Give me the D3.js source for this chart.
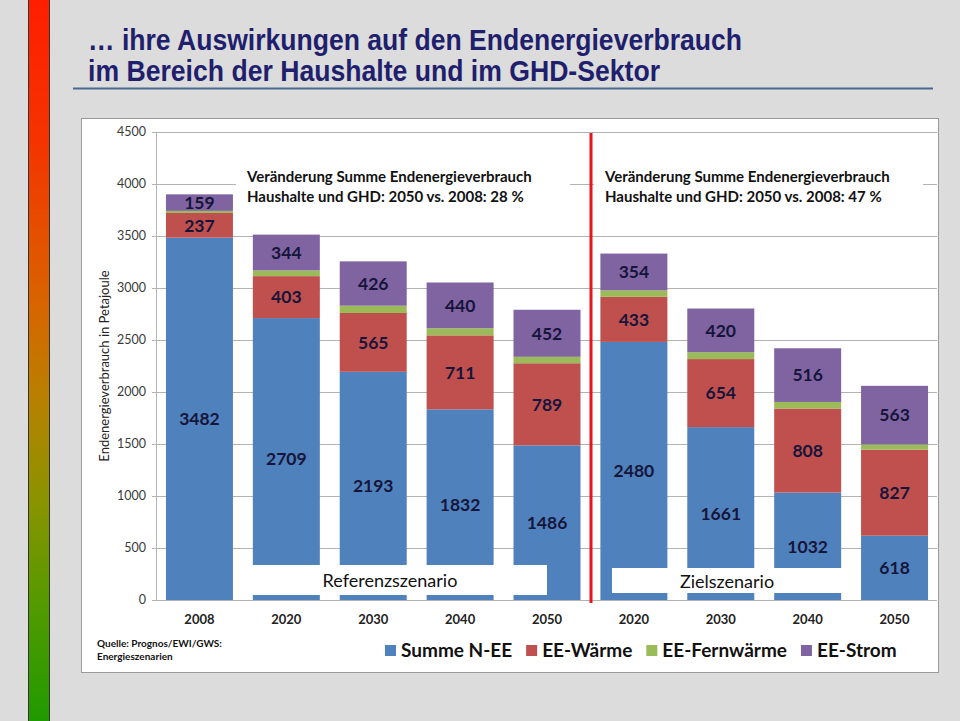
<!DOCTYPE html>
<html><head><meta charset="utf-8">
<script src="https://cdn.jsdelivr.net/npm/d3@7"></script>
<style>body{margin:0;background:#dcdcdc;} svg{display:block}</style>
</head><body><svg id="c" width="960" height="721"></svg>
<script>
const categories = ["2008","2020","2030","2040","2050","2020","2030","2040","2050"];
const keys = ["2008","R2020","R2030","R2040","R2050","Z2020","Z2030","Z2040","Z2050"];
const summeNEE = [3482,2709,2193,1832,1486,2480,1661,1032,618];
const eeWaerme = [237,403,565,711,789,433,654,808,827];
const eeFernwaerme = [20,55,70,68,62,62,66,63,50];
const eeStrom = [159,344,426,440,452,354,420,516,563];
const seriesNames = ["Summe N-EE","EE-Wärme","EE-Fernwärme","EE-Strom"];
const seriesColors = ["#4f81bd","#c0504d","#9bbb59","#8064a2"];
const showLabel = [true,true,false,true];
const yTicks = [0,500,1000,1500,2000,2500,3000,3500,4000,4500];
const titleLines = ["… ihre Auswirkungen auf den Endenergieverbrauch","im Bereich der Haushalte und im GHD-Sektor"];
const titleWidths = [654,572];
const notes = [["Veränderung Summe Endenergieverbrauch","Haushalte und GHD: 2050 vs. 2008: 28 %"],
               ["Veränderung Summe Endenergieverbrauch","Haushalte und GHD: 2050 vs. 2008: 47 %"]];
const scenarioNames = ["Referenzszenario","Zielszenario"];
const yTitle = "Endenergieverbrauch in Petajoule";
const sourceLines = ["Quelle: Prognos/EWI/GWS:","Energieszenarien"];

const svg = d3.select("#c");
const F = "Lato, 'Open Sans', sans-serif";

// background gradient bar
const defs = svg.append("defs");
const g = defs.append("linearGradient").attr("id","lg").attr("x1",0).attr("x2",0).attr("y1",0).attr("y2",1);
[[0,"#ff1e00"],[0.2,"#f43400"],[0.42,"#d86400"],[0.56,"#b68200"],[0.7,"#889400"],[0.85,"#4f9a00"],[1,"#1f9a00"]]
 .forEach(s=>g.append("stop").attr("offset",s[0]).attr("stop-color",s[1]));
svg.append("rect").attr("x",28.5).attr("y",-1).attr("width",21).attr("height",723)
   .attr("fill","url(#lg)").attr("stroke","#333").attr("stroke-width",1);

// title
svg.selectAll(".title").data(titleLines).join("text")
  .attr("x",88).attr("y",(d,i)=>50+i*31)
  .attr("font-family","'Liberation Sans Narrow','Arial Narrow','Liberation Sans',sans-serif")
  .attr("font-weight","bold").attr("font-size",30).attr("fill","#1f1f6e")
  .attr("textLength",(d,i)=>titleWidths[i]).attr("lengthAdjust","spacingAndGlyphs").text(d=>d);
svg.append("line").attr("x1",73).attr("x2",933).attr("y1",88.5).attr("y2",88.5)
  .attr("stroke","#4a6890").attr("stroke-width",2);

// panel
svg.append("rect").attr("x",81.5).attr("y",118.5).attr("width",857).attr("height",554)
  .attr("fill","#fff").attr("stroke","#9a9a9a");

const x = d3.scaleBand().domain(keys).range([156,938]).paddingInner(0.229).paddingOuter(0.1145);
const y = d3.scaleLinear().domain([0,4500]).range([600,131.7]);

// grid
svg.append("g").selectAll("line").data(yTicks).join("line")
  .attr("x1",152).attr("x2",937).attr("y1",d=>Math.round(y(d))+0.5).attr("y2",d=>Math.round(y(d))+0.5)
  .attr("stroke","#b3b3b3");
svg.append("line").attr("x1",156.5).attr("x2",156.5).attr("y1",y(4500)).attr("y2",600)
  .attr("stroke","#b3b3b3");
svg.append("g").selectAll("text").data(yTicks).join("text")
  .attr("x",146).attr("y",d=>y(d)).attr("dy","0.35em").attr("text-anchor","end")
  .attr("font-family",F).attr("font-size",12.5).attr("fill","#3a3a3a").text(d=>d);
svg.append("text").attr("transform","translate(109,366) rotate(-90)").attr("text-anchor","middle")
  .attr("font-family",F).attr("font-size",13).attr("fill","#222").text(yTitle);

// stacks
const rows = keys.map((k,i)=>({key:k, v:[summeNEE[i],eeWaerme[i],eeFernwaerme[i],eeStrom[i]]}));
const stack = d3.stack().keys([0,1,2,3]).value((d,k)=>d.v[k])(rows);
const layers = svg.append("g").selectAll("g").data(stack).join("g").attr("fill",(d,i)=>seriesColors[i]);
layers.selectAll("rect").data(d=>d).join("rect")
  .attr("x",d=>x(d.data.key)).attr("width",x.bandwidth())
  .attr("y",d=>y(d[1])).attr("height",d=>y(d[0])-y(d[1]));

// white boxes
svg.append("rect").attr("x",234).attr("y",565).attr("width",313).attr("height",30).attr("fill","#fff");
svg.append("rect").attr("x",612).attr("y",568).attr("width",245).attr("height",25).attr("fill","#fff");
svg.append("rect").attr("x",236).attr("y",162).attr("width",334).attr("height",48).attr("fill","#fff");
svg.append("rect").attr("x",594).attr("y",162).attr("width",329).attr("height",48).attr("fill","#fff");

// labels
stack.forEach((layer,si)=>{
  if(!showLabel[si]) return;
  svg.append("g").selectAll("text").data(layer).join("text")
    .attr("x",d=>x(d.data.key)+x.bandwidth()/2).attr("y",d=>(y(d[0])+y(d[1]))/2).attr("dy","0.36em")
    .attr("text-anchor","middle").attr("font-family",F).attr("font-weight","bold").attr("font-size",17.5)
    .attr("fill","#15153a").text(d=>d.data.v[si]);
});

// scenario names
svg.append("text").attr("x",390).attr("y",581).attr("dy","0.35em").attr("text-anchor","middle")
  .attr("font-family",F).attr("font-size",18).attr("fill","#111").text(scenarioNames[0]);
svg.append("text").attr("x",727).attr("y",582).attr("dy","0.35em").attr("text-anchor","middle")
  .attr("font-family",F).attr("font-size",18).attr("fill","#111").text(scenarioNames[1]);

// notes
[[247],[605]].forEach((p,ni)=>{
  svg.append("g").selectAll("text").data(notes[ni]).join("text")
    .attr("x",p[0]).attr("y",(d,i)=>182+i*19.5)
    .attr("font-family",F).attr("font-weight","bold").attr("font-size",15).attr("fill","#111").text(d=>d);
});

// red divider
svg.append("line").attr("x1",591).attr("x2",591).attr("y1",133).attr("y2",603)
  .attr("stroke","#e8141b").attr("stroke-width",3);

// x labels
svg.append("g").selectAll("text").data(keys).join("text")
  .attr("x",d=>x(d)+x.bandwidth()/2).attr("y",624).attr("text-anchor","middle")
  .attr("font-family",F).attr("font-weight","bold").attr("font-size",13).attr("fill","#222")
  .text((d,i)=>categories[i]);

// source
svg.append("g").selectAll("text").data(sourceLines).join("text")
  .attr("x",97).attr("y",(d,i)=>647+i*13).attr("font-family",F).attr("font-weight","bold")
  .attr("font-size",10).attr("fill","#111").text(d=>d);

// legend
let lx = 385;
seriesNames.forEach((n,i)=>{
  svg.append("rect").attr("x",lx).attr("y",645).attr("width",11).attr("height",11).attr("fill",seriesColors[i]);
  const t = svg.append("text").attr("x",lx+16).attr("y",650).attr("dy","0.36em")
    .attr("font-family",F).attr("font-weight","bold").attr("font-size",19).attr("fill","#111").text(n);
  lx = lx + 16 + t.node().getComputedTextLength() + 14;
});
</script></body></html>
